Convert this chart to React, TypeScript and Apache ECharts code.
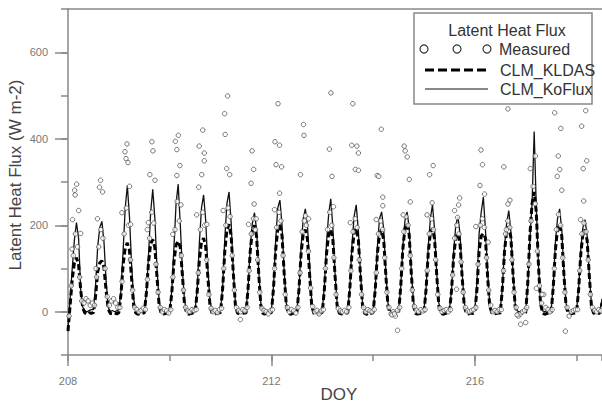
import React, { useEffect, useRef } from "react";
import * as echarts from "echarts";

// Time axis: samples every 1/24 DOY unit, starting at DOY 208
const START_DOY = 208;
const STEP = 1 / 24;

// CLM_KoFlux (thin solid line), one row per diurnal cycle (12 samples)
const koFluxRows: number[][] = [
  [-40, 30, 100, 165, 206, 170, 50, 10, 2, 0, 3, 5],
  [5, 60, 150, 195, 209, 160, 70, 10, 0, 3, 0, 2],
  [5, 50, 140, 240, 292, 220, 110, 30, 3, 0, 2, 0],
  [3, 45, 130, 230, 283, 215, 100, 25, 2, 0, 3, 0],
  [4, 50, 150, 250, 295, 200, 95, 25, 2, 0, 0, 3],
  [5, 55, 160, 240, 270, 210, 100, 25, 3, 0, 2, 0],
  [5, 60, 170, 250, 277, 205, 95, 20, 2, 0, 3, 0],
  [5, 55, 150, 205, 229, 190, 95, 20, 2, 0, 2, 0],
  [5, 60, 165, 240, 258, 200, 95, 20, 2, 0, 2, 0],
  [5, 50, 150, 215, 238, 200, 110, 25, 3, 0, 2, 0],
  [5, 60, 160, 225, 261, 195, 90, 20, 2, 0, 3, 0],
  [5, 55, 155, 220, 247, 190, 90, 20, 2, 0, 2, 0],
  [5, 55, 150, 215, 231, 190, 90, 20, 2, 0, 2, 0],
  [5, 55, 150, 210, 231, 195, 95, 25, 2, 0, 2, 0],
  [5, 55, 150, 215, 247, 190, 90, 20, 2, 0, 2, 0],
  [5, 50, 140, 200, 220, 180, 90, 20, 2, 0, 2, 0],
  [5, 70, 180, 230, 265, 190, 95, 20, 2, 0, 2, 0],
  [5, 55, 150, 205, 234, 185, 90, 20, 2, 0, 2, 0],
  [5, 60, 170, 250, 417, 240, 110, 25, 2, 0, 2, 0],
  [5, 60, 160, 215, 238, 190, 95, 20, 2, 0, 2, 0],
  [5, 55, 145, 195, 213, 175, 85, 20, 2, 0, 2, 0],
];
const koFluxTail: number[] = [30];

// CLM_KLDAS (thick dashed line)
const kldasRows: number[][] = [
  [-45, 15, 75, 112, 125, 108, 50, 8, -3, -6, -2, -4],
  [-2, 35, 92, 113, 118, 102, 48, 6, -4, -5, -3, -5],
  [-2, 40, 108, 148, 159, 142, 78, 14, -3, -6, -4, -3],
  [-3, 44, 114, 157, 167, 148, 80, 15, -4, -5, -4, -3],
  [-2, 45, 115, 155, 163, 149, 84, 15, -3, -6, -4, -3],
  [-3, 48, 120, 162, 170, 150, 80, 14, -4, -5, -4, -3],
  [-2, 55, 140, 190, 202, 175, 90, 15, -3, -5, -4, -3],
  [-3, 55, 140, 188, 200, 174, 88, 14, -4, -5, -3, -4],
  [-2, 56, 142, 191, 202, 176, 90, 15, -3, -6, -4, -3],
  [-3, 52, 135, 180, 190, 168, 88, 15, -4, -5, -4, -3],
  [-2, 52, 134, 180, 190, 166, 85, 14, -3, -5, -4, -3],
  [-3, 53, 136, 182, 193, 168, 86, 14, -4, -6, -3, -4],
  [-2, 52, 134, 180, 190, 165, 84, 13, -3, -5, -4, -3],
  [-3, 57, 144, 193, 204, 178, 90, 15, -4, -5, -4, -3],
  [-2, 53, 136, 182, 193, 168, 86, 14, -3, -6, -4, -3],
  [-3, 50, 128, 171, 181, 158, 80, 13, -4, -5, -3, -4],
  [-2, 52, 140, 175, 181, 170, 82, 14, -3, -5, -4, -3],
  [-3, 55, 140, 186, 197, 172, 87, 14, -4, -5, -4, -3],
  [-2, 70, 180, 250, 277, 230, 110, 18, -3, -6, -4, -3],
  [-3, 57, 142, 191, 202, 176, 89, 15, -4, -5, -4, -3],
  [-2, 53, 134, 180, 190, 165, 84, 13, -3, -5, -4, -3],
];
const kldasTail: number[] = [20];

// Measured, sampled half a step after each model sample
const measuredRows: number[][] = [
  [-10, 60, 130, 180, 150, 80, 25, 20, 30, 25, 15, 20],
  [15, 80, 150, 190, 170, 100, 35, 15, 25, 30, 20, 10],
  [10, 70, 180, 240, 200, 120, 50, 10, 5, 0, 3, 8],
  [5, 75, 170, 230, 205, 110, 45, 10, 0, 5, 2, -3],
  [5, 80, 190, 255, 210, 130, 50, 10, 2, 0, 5, 3],
  [5, 90, 190, 230, 200, 120, 40, 8, 0, 3, -2, 5],
  [8, 100, 200, 240, 220, 130, 50, 10, 3, 0, 5, 2],
  [10, 95, 180, 215, 190, 120, 45, 8, 3, 0, -5, 2],
  [5, 100, 195, 230, 210, 130, 40, 10, 0, 5, 2, -3],
  [10, 90, 185, 210, 200, 140, 55, 12, 0, 3, -5, 2],
  [5, 100, 190, 230, 200, 125, 40, 8, 2, 0, 3, 0],
  [10, 95, 185, 215, 195, 120, 40, 10, 0, 5, 2, 0],
  [5, 90, 180, 210, 190, 125, 45, 10, -5, 0, -10, 3],
  [10, 100, 185, 220, 200, 130, 50, 12, 3, 0, 5, 2],
  [5, 95, 180, 215, 190, 120, 40, 8, 0, 3, 5, 0],
  [5, 85, 170, 200, 180, 115, 45, 10, 2, 0, 3, 5],
  [10, 110, 200, 215, 195, 125, 50, 15, 0, 3, 0, 5],
  [5, 95, 180, 210, 195, 120, 45, 10, -10, -5, 0, 3],
  [10, 110, 210, 290, 250, 140, 60, 20, 40, 10, 5, 0],
  [5, 100, 190, 225, 200, 125, 45, 10, -10, 0, 3, 5],
  [5, 95, 180, 205, 185, 120, 40, 10, 3, 0, 5, 2],
];

// Additional measured points [DOY, W m-2] (mostly the high midday values)
const measuredExtra: [number, number][] = [
  [208.17, 295], [208.13, 281], [208.14, 270], [208.21, 234], [208.09, 213], [208.25, 181], [208.08, 145],
  [208.64, 304], [208.62, 288], [208.68, 277], [208.58, 215], [208.55, 100],
  [209.16, 388], [209.12, 370], [209.14, 354], [209.18, 345], [209.21, 290], [209.06, 229], [209.23, 202],
  [209.65, 393], [209.67, 372], [209.61, 317], [209.71, 304], [209.58, 206], [209.56, 190],
  [210.17, 408], [210.11, 394], [210.14, 375], [210.2, 338], [210.14, 315], [210.06, 179], [210.22, 247],
  [210.65, 420], [210.58, 383], [210.68, 367], [210.68, 349], [210.63, 317], [210.57, 288], [210.53, 224], [210.73, 202],
  [211.14, 499], [211.08, 458], [211.09, 410], [211.12, 331], [211.18, 317], [211.05, 234], [211.39, -18],
  [211.62, 372], [211.65, 329], [211.6, 297], [211.66, 249], [211.7, 215], [211.55, 202],
  [212.13, 481], [212.07, 393], [212.16, 385], [212.09, 340], [212.2, 335], [212.16, 274], [212.06, 236],
  [212.63, 433], [212.64, 408], [212.57, 317], [212.67, 222], [212.73, 215],
  [213.17, 506], [213.14, 376], [213.19, 313], [213.22, 243],
  [213.6, 481], [213.58, 385], [213.68, 383], [213.71, 367], [213.65, 329], [213.71, 327], [213.55, 206],
  [214.16, 422], [214.08, 315], [214.11, 313], [214.19, 265], [214.19, 245], [214.06, 213], [214.48, -43], [214.37, -7], [214.42, -5],
  [214.61, 383], [214.63, 372], [214.67, 358], [214.71, 306], [214.73, 254], [214.59, 224],
  [215.18, 338], [215.11, 317], [215.06, 224], [215.16, 252],
  [215.7, 263], [215.68, 247], [215.6, 234], [215.66, 218], [215.64, 52],
  [216.12, 374], [216.15, 340], [216.1, 292], [216.19, 272], [216.02, 197], [216.26, 161],
  [216.65, 469], [216.57, 335], [216.69, 258], [216.65, 249], [216.62, 190], [216.9, -29], [217.0, -25], [216.83, -7],
  [217.19, 360], [217.09, 331], [217.21, 54], [217.32, 40],
  [217.57, 460], [217.69, 424], [217.64, 360], [217.67, 329], [217.62, 313], [217.71, 281], [217.78, -45],
  [218.18, 465], [218.1, 429], [218.2, 349], [218.13, 331], [218.14, 256], [218.08, 213],
];

const xMajorTicks = [208, 212, 216];
const yMajorTicks = [0, 200, 400, 600];

const FONT = "'Liberation Sans', Arial, sans-serif";
const AXIS_COLOR = "#888888";

function toSeries(rows: number[][], tail: number[], offset: number): [number, number][] {
  const flat = rows.flat().concat(tail);
  return flat.map((v, i) => [START_DOY + (i + offset) * STEP, v] as [number, number]);
}

export default function App() {
  const ref = useRef<HTMLDivElement>(null);

  useEffect(() => {
    document.body.style.margin = "0";
    if (!ref.current) return;
    const chart = echarts.init(ref.current, undefined, { renderer: "svg" });

    const koFlux = toSeries(koFluxRows, koFluxTail, 0);
    const kldas = toSeries(kldasRows, kldasTail, 0);
    const measured = toSeries(measuredRows, [], 0.5).concat(measuredExtra);

    const axisLineStyle = { color: AXIS_COLOR, width: 1.5 };

    const option: any = {
      animation: false,
      backgroundColor: "#fff",
      grid: { left: 68, right: 0, top: 9, bottom: 46 },
      xAxis: [
        {
          type: "value",
          min: 208,
          max: 218.5,
          interval: 2,
          position: "bottom",
          axisLine: { show: true, onZero: false, lineStyle: axisLineStyle },
          axisTick: { show: true, length: 6, lineStyle: axisLineStyle },
          axisLabel: { show: false },
          splitLine: { show: false },
          name: "DOY",
          nameLocation: "middle",
          nameGap: 31,
          nameTextStyle: { fontSize: 17, color: "#444", fontFamily: FONT, padding: [0, 0, 0, 8] },
        },
        {
          type: "value",
          min: 208,
          max: 218.5,
          position: "bottom",
          axisLine: { show: false, onZero: false },
          axisTick: { show: true, length: 11, customValues: xMajorTicks, lineStyle: axisLineStyle },
          axisLabel: {
            show: true,
            customValues: xMajorTicks,
            margin: 20,
            fontSize: 11,
            color: "#777",
            fontFamily: FONT,
          },
          splitLine: { show: false },
        },
        {
          type: "value",
          min: 208,
          max: 218.5,
          position: "top",
          axisLine: { show: true, onZero: false, lineStyle: axisLineStyle },
          axisTick: { show: false },
          axisLabel: { show: false },
          splitLine: { show: false },
        },
      ],
      yAxis: [
        {
          type: "value",
          min: -100,
          max: 700,
          interval: 100,
          position: "left",
          axisLine: { show: true, onZero: false, lineStyle: axisLineStyle },
          axisTick: { show: true, length: 7, lineStyle: axisLineStyle },
          axisLabel: { show: false },
          splitLine: { show: false },
        },
        {
          type: "value",
          min: -100,
          max: 700,
          position: "left",
          axisLine: { show: false, onZero: false },
          axisTick: { show: true, length: 13, customValues: yMajorTicks, lineStyle: axisLineStyle },
          axisLabel: {
            show: true,
            customValues: yMajorTicks,
            margin: 20,
            fontSize: 11,
            color: "#777",
            fontFamily: FONT,
          },
          splitLine: { show: false },
        },
      ],
      series: [
        {
          name: "CLM_KoFlux",
          type: "line",
          xAxisIndex: 0,
          yAxisIndex: 0,
          data: koFlux,
          showSymbol: false,
          lineStyle: { color: "#111", width: 1.3 },
          z: 2,
        },
        {
          name: "CLM_KLDAS",
          type: "line",
          xAxisIndex: 0,
          yAxisIndex: 0,
          data: kldas,
          showSymbol: false,
          lineStyle: { color: "#000", width: 3, type: [6, 3] },
          z: 3,
        },
        {
          name: "Measured",
          type: "scatter",
          xAxisIndex: 0,
          yAxisIndex: 0,
          data: measured,
          symbol: "circle",
          symbolSize: 4.5,
          itemStyle: { color: "#fff", borderColor: "#555", borderWidth: 1 },
          z: 4,
        },
      ],
      graphic: [
        {
          type: "text",
          x: 15,
          y: 175,
          rotation: Math.PI / 2,
          z: 100,
          style: {
            text: "Latent Heat Flux (W m-2)",
            x: 0,
            y: 0,
            align: "center",
            verticalAlign: "middle",
            font: `17px ${FONT}`,
            fill: "#444",
          },
        },
        {
          type: "group",
          z: 100,
          children: [
            {
              type: "rect",
              z: 100,
              shape: { x: 414, y: 13, width: 178, height: 91 },
              style: { fill: "#fff", stroke: "#888", lineWidth: 1.5 },
            },
            {
              type: "text",
              z: 101,
              style: {
                text: "Latent Heat Flux",
                x: 507,
                y: 30,
                align: "center",
                verticalAlign: "middle",
                font: `16px ${FONT}`,
                fill: "#333",
              },
            },
            { type: "circle", z: 101, shape: { cx: 424, cy: 49, r: 4 }, style: { fill: "#fff", stroke: "#333", lineWidth: 1.2 } },
            { type: "circle", z: 101, shape: { cx: 457, cy: 49, r: 4 }, style: { fill: "#fff", stroke: "#333", lineWidth: 1.2 } },
            { type: "circle", z: 101, shape: { cx: 487, cy: 49, r: 4 }, style: { fill: "#fff", stroke: "#333", lineWidth: 1.2 } },
            {
              type: "text",
              z: 101,
              style: { text: "Measured", x: 499, y: 49, align: "left", verticalAlign: "middle", font: `16px ${FONT}`, fill: "#333" },
            },
            {
              type: "line",
              z: 101,
              shape: { x1: 425, y1: 70, x2: 488, y2: 70 },
              style: { stroke: "#000", lineWidth: 3, lineDash: [9, 4] },
            },
            {
              type: "text",
              z: 101,
              style: { text: "CLM_KLDAS", x: 500, y: 70, align: "left", verticalAlign: "middle", font: `16px ${FONT}`, fill: "#333" },
            },
            {
              type: "line",
              z: 101,
              shape: { x1: 425, y1: 89, x2: 488, y2: 89 },
              style: { stroke: "#111", lineWidth: 1 },
            },
            {
              type: "text",
              z: 101,
              style: { text: "CLM_KoFlux", x: 500, y: 89, align: "left", verticalAlign: "middle", font: `16px ${FONT}`, fill: "#333" },
            },
          ],
        },
      ],
    };

    chart.setOption(option);
    return () => {
      chart.dispose();
    };
  }, []);

  return (
    <div
      ref={ref}
      style={{ position: "absolute", left: 0, top: 0, width: 602, height: 408 }}
    />
  );
}
